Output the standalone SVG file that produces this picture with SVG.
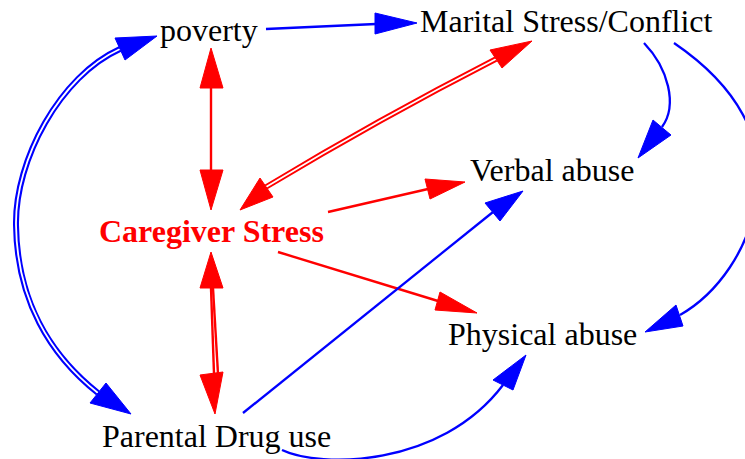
<svg xmlns="http://www.w3.org/2000/svg" width="745" height="459" viewBox="0 0 745 459">
<style>
  .lbl { font-family: "Liberation Serif", "Times New Roman", serif; font-size: 32px; fill: #000; }
  .lblr { font-family: "Liberation Serif", "Times New Roman", serif; font-size: 32px; font-weight: bold; fill: #ff0000; }
  .eb { fill: none; stroke: #0000ff; stroke-width: 2.3; }
  .er { fill: none; stroke: #ff0000; stroke-width: 2.4; }
  .ebd { fill: none; stroke: #0000ff; stroke-width: 6; }
  .erd { fill: none; stroke: #ff0000; stroke-width: 5.5; }
  .gap { fill: none; stroke: #ffffff; stroke-width: 1.8; }
  .hb { fill: #0000ff; stroke: #0000ff; stroke-width: 1; stroke-linejoin: miter; }
  .hr { fill: #ff0000; stroke: #ff0000; stroke-width: 1; stroke-linejoin: miter; }
</style>
<rect width="745" height="459" fill="#ffffff"/>
<g id="connectors">
  <!-- poverty -> Marital -->
  <path class="eb" d="M266,29 L376,24"/>
  <polygon class="hb" points="417,23 375,13 375,34"/>
  <!-- Marital -> Verbal -->
  <path class="eb" d="M644,43 C668,68 678,105 662,127"/>
  <polygon class="hb" points="638,158 653,120 671,135"/>
  <!-- Marital -> Physical -->
  <path class="eb" d="M674,43 C740,88 764,140 757,190 C752,250 715,295 680,315"/>
  <polygon class="hb" points="645,332 676,305 683,326"/>
  <!-- poverty <-> Caregiver -->
  <path class="er" d="M211,88 L211,170"/>
  <polygon class="hr" points="211,48 200,88 223,88"/>
  <polygon class="hr" points="211,210 200,170 223,170"/>
  <!-- Marital <-> Caregiver (double) -->
  <path class="erd" d="M266,187 Q379,119 496,59"/>
  <path class="gap" d="M266,187 Q379,119 496,59"/>
  <polygon class="hr" points="532,41 490,50 502,68"/>
  <polygon class="hr" points="240,210 260,178 273,197"/>
  <!-- Caregiver -> Verbal -->
  <path class="er" d="M328,212 L428,189"/>
  <polygon class="hr" points="465,182 425,179 430,199"/>
  <!-- Caregiver -> Physical -->
  <path class="er" d="M278,252 L438,301"/>
  <polygon class="hr" points="477,313 440,292 435,310"/>
  <!-- Caregiver <-> Parental -->
  <path class="er" d="M211,288 L214,374"/>
  <path class="er" d="M213,288 L218,374"/>
  <polygon class="hr" points="211,252 200,288 223,288"/>
  <polygon class="hr" points="215,414 200,375 223,372"/>
  <!-- Parental -> Verbal -->
  <path class="eb" d="M243,413 L493,212"/>
  <polygon class="hb" points="523,191 485,203 500,221"/>
  <!-- Parental -> Physical -->
  <path class="eb" d="M282,450 C320,468 440,468 503,385"/>
  <polygon class="hb" points="526,355 493,380 513,390"/>
  <!-- poverty <-> Parental (double) -->
  <path class="ebd" d="M120,49 C60,76 15,160 16,225 C17,300 50,355 98,393"/>
  <path class="gap" d="M120,49 C60,76 15,160 16,225 C17,300 50,355 98,393"/>
  <polygon class="hb" points="157,36 115,38 125,60"/>
  <polygon class="hb" points="131,414 90,403 106,383"/>
</g>
<g id="poverty"><text class="lbl" x="160" y="41">poverty</text></g>
<g id="marital"><text class="lbl" x="420" y="32">Marital Stress/Conflict</text></g>
<g id="verbal"><text class="lbl" x="470" y="181">Verbal abuse</text></g>
<g id="caregiver"><text class="lblr" x="99" y="242">Caregiver Stress</text></g>
<g id="physical"><text class="lbl" x="448" y="345">Physical abuse</text></g>
<g id="parental"><text class="lbl" x="102" y="447">Parental Drug use</text></g>
</svg>
